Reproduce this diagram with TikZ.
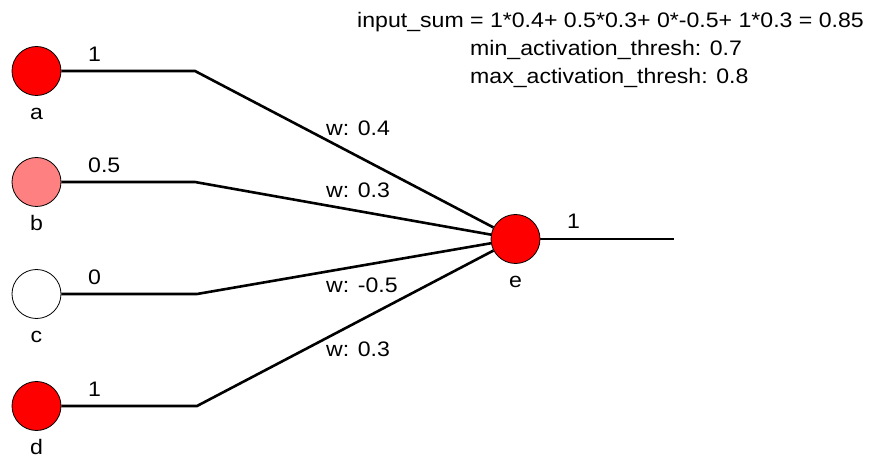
\documentclass[tikz,border=0pt]{standalone}
\usepackage{fontspec}
\setmainfont{Liberation Sans}[FakeStretch=1.1]
\usetikzlibrary{positioning}

\begin{document}
\begin{tikzpicture}[
  x=1pt,y=-1pt,
  unit/.style={draw,circle,minimum size=49pt,inner sep=0pt,line width=0.8pt,
    label={[name label]below:#1}},
  name label/.style={label distance=7pt,inner sep=1pt,text height=15pt,text depth=0pt,font=\fontsize{21}{25}\selectfont},
  link/.style={line width=2.6pt,black},
  txt/.style={anchor=base west,inner sep=0pt,font=\fontsize{21}{25}\selectfont}
]
\useasboundingbox (0,0) rectangle (876,457);
% input units
\node[unit=a,fill=red] (a) at (36.5,71) {};
\node[unit=b,fill={rgb,255:red,255;green,128;blue,128}] (b) at (36.5,182) {};
\node[unit=c,fill=white] (c) at (36.5,294) {};
\node[unit=d,fill=red] (d) at (36.5,406) {};
% output unit
\node[unit=e,fill=red] (e) at (515.5,239) {};
\coordinate (ka) at (195,71);
\coordinate (kb) at (195,182);
\coordinate (kc) at (197,294);
\coordinate (kd) at (197,406);
\coordinate (out) at (674,239);
\draw[link] (a) -- (ka) -- (e);
\draw[link] (b) -- (kb) -- (e);
\draw[link] (c) -- (kc) -- (e);
\draw[link] (d) -- (kd) -- (e);
\draw[link] (e) -- (out);
% activations
\node[txt] (va) at (88,62) {1};
\node[txt] (vb) at (88,173) {0.5};
\node[txt] (vc) at (88,284) {0};
\node[txt] (vd) at (88,396) {1};
\node[txt] (ve) at (567,229) {1};
% weights
\node[txt] (wa) at (326,136) {w: 0.4};
\node[txt] (wb) at (326,198) {w: 0.3};
\node[txt] (wc) at (326,292) {w: -0.5};
\node[txt] (wd) at (326,356) {w: 0.3};
% summary
\node[txt] (sum) at (357,28) {input\_sum = 1*0.4+ 0.5*0.3+ 0*-0.5+ 1*0.3 = 0.85};
\node[txt] (minth) at (470,56) {min\_activation\_thresh: 0.7};
\node[txt] (maxth) at (470,84) {max\_activation\_thresh: 0.8};
\end{tikzpicture}
\end{document}
